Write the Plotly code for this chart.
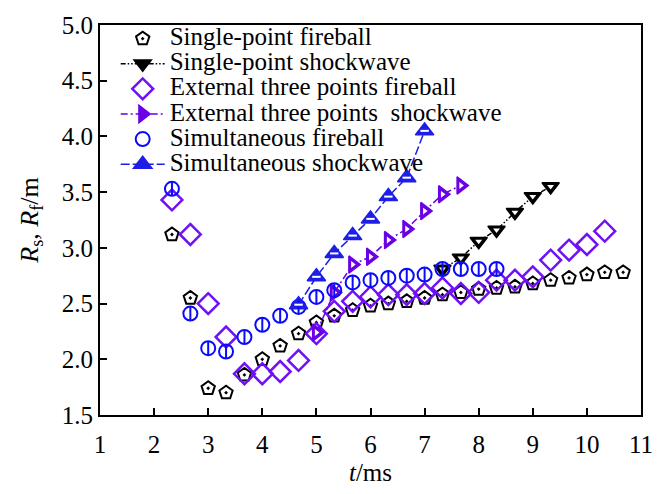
import plotly.graph_objects as go

# ---- data ----
t_sp_fire = [2.33, 2.67, 3.0, 3.33, 3.67, 4.0, 4.33, 4.67, 5.0, 5.33, 5.67, 6.0, 6.33,
             6.67, 7.0, 7.33, 7.67, 8.0, 8.33, 8.67, 9.0, 9.33, 9.67, 10.0, 10.33, 10.67]
r_sp_fire = [3.12, 2.55, 1.74, 1.70, 1.86, 2.00, 2.12, 2.23, 2.33, 2.39, 2.44, 2.48, 2.50,
             2.52, 2.55, 2.58, 2.60, 2.63, 2.64, 2.65, 2.68, 2.71, 2.73, 2.76, 2.78, 2.78]

t_sp_shock = [7.33, 7.67, 8.0, 8.33, 8.67, 9.0, 9.33]
r_sp_shock = [2.81, 2.91, 3.06, 3.16, 3.32, 3.46, 3.55]

t_ext_fire = [2.33, 2.67, 3.0, 3.33, 3.67, 4.0, 4.33, 4.67, 5.0, 5.33, 5.67, 6.0, 6.33,
              6.67, 7.0, 7.33, 7.67, 8.0, 8.33, 8.67, 9.0, 9.33, 9.67, 10.0, 10.33]
r_ext_fire = [3.43, 3.12, 2.50, 2.20, 1.87, 1.87, 1.89, 1.99, 2.23, 2.43, 2.52, 2.56, 2.58,
              2.58, 2.59, 2.64, 2.59, 2.60, 2.71, 2.71, 2.74, 2.89, 2.98, 3.03, 3.15]

t_ext_shock = [5.0, 5.33, 5.67, 6.0, 6.33, 6.67, 7.0, 7.33, 7.67]
r_ext_shock = [2.24, 2.60, 2.85, 2.92, 3.07, 3.17, 3.33, 3.48, 3.56]

t_sim_fire = [2.33, 2.67, 3.0, 3.33, 3.67, 4.0, 4.33, 4.67, 5.0, 5.33, 5.67, 6.0, 6.33,
              6.67, 7.0, 7.33, 7.67, 8.0, 8.33]
r_sim_fire = [3.53, 2.41, 2.10, 2.07, 2.20, 2.31, 2.39, 2.47, 2.56, 2.62, 2.69, 2.71, 2.73,
              2.75, 2.76, 2.81, 2.81, 2.81, 2.81]

t_sim_shock = [4.67, 5.0, 5.33, 5.67, 6.0, 6.33, 6.67, 7.0]
r_sim_shock = [2.49, 2.74, 2.95, 3.11, 3.26, 3.46, 3.63, 4.05]

names = ["Single-point fireball", "Single-point shockwave",
         "External three points fireball", "External three points  shockwave",
         "Simultaneous fireball", "Simultaneous shockwave"]

x_ticks = list(range(1, 12))
y_ticks = [1.5, 2.0, 2.5, 3.0, 3.5, 4.0, 4.5, 5.0]

BLACK = "#000000"
VIOLET = "#7010F5"
VIOLET2 = "#6A00E6"
BLUE = "#0A0AFF"
BLUE2 = "#1E1EE6"
FONT = "Liberation Serif"


def lname(s):
    return '<span style="font-size:25px">' + s.replace("  ", "&nbsp; ") + '</span>'


fig = go.Figure()

# Single-point fireball
fig.add_trace(go.Scatter(x=t_sp_fire, y=r_sp_fire, mode="markers", name=lname(names[0]),
                         marker=dict(symbol="pentagon-open-dot", size=14, color=BLACK,
                                     line=dict(width=2, color=BLACK))))
# Single-point shockwave
fig.add_trace(go.Scatter(x=t_sp_shock, y=r_sp_shock, mode="lines+markers", name=lname(names[1]),
                         line=dict(color=BLACK, width=1.5, dash="5px,2px,1.5px,2px,1.5px,2px"),
                         marker=dict(symbol="triangle-down", size=15, color=BLACK,
                                     line=dict(width=1.5, color=BLACK))))
# External three points fireball
fig.add_trace(go.Scatter(x=t_ext_fire, y=r_ext_fire, mode="markers", name=lname(names[2]),
                         marker=dict(symbol="diamond-open", size=16, color=VIOLET,
                                     line=dict(width=2.5, color=VIOLET))))
# External three points shockwave
fig.add_trace(go.Scatter(x=t_ext_shock, y=r_ext_shock, mode="lines+markers", name=lname(names[3]),
                         line=dict(color=VIOLET2, width=1.5, dash="7px,3px,2px,3px"),
                         marker=dict(symbol="triangle-right", size=15, color=VIOLET2,
                                     line=dict(width=1.5, color=VIOLET2))))
# Simultaneous fireball
fig.add_trace(go.Scatter(x=t_sim_fire, y=r_sim_fire, mode="markers", name=lname(names[4]),
                         marker=dict(symbol="circle-open", size=14, color=BLUE,
                                     line=dict(width=2, color=BLUE))))
# Simultaneous shockwave
fig.add_trace(go.Scatter(x=t_sim_shock, y=r_sim_shock, mode="lines+markers", name=lname(names[5]),
                         line=dict(color=BLUE2, width=1.5, dash="9px,3px"),
                         marker=dict(symbol="triangle-up", size=16, color=BLUE2,
                                     line=dict(width=1.5, color=BLUE2))))

# marker details (white inner parts / bars)
fig.add_trace(go.Scatter(x=t_sp_shock, y=r_sp_shock, mode="markers", showlegend=False,
                         hoverinfo="skip",
                         marker=dict(symbol="triangle-down", size=6, color="white",
                                     line=dict(width=0))))
fig.add_trace(go.Scatter(x=t_ext_shock, y=r_ext_shock, mode="markers", showlegend=False,
                         hoverinfo="skip",
                         marker=dict(symbol="triangle-right", size=6, color="white",
                                     line=dict(width=0))))
fig.add_trace(go.Scatter(x=t_sim_fire, y=r_sim_fire, mode="markers", showlegend=False,
                         hoverinfo="skip",
                         marker=dict(symbol="line-ns-open", size=10, color=BLUE,
                                     line=dict(width=2, color=BLUE))))
fig.add_trace(go.Scatter(x=t_sim_shock, y=r_sim_shock, mode="markers", showlegend=False,
                         hoverinfo="skip",
                         marker=dict(symbol="line-ew-open", size=6, color="white",
                                     line=dict(width=2, color="white"))))

axis_common = dict(showline=True, linecolor="black", linewidth=2, mirror=True,
                   ticks="inside", ticklen=7, tickwidth=1.5, tickcolor="black",
                   showgrid=False, zeroline=False,
                   tickfont=dict(family=FONT, size=25, color="black"))

fig.update_xaxes(range=[1, 11], tickvals=x_ticks, ticktext=[str(v) for v in x_ticks],
                 ticklabelstandoff=6,
                 title=dict(text="<i>t</i>/ms", font=dict(family=FONT, size=25, color="black"),
                            standoff=6),
                 **axis_common)
fig.update_yaxes(range=[1.5, 5.0], tickvals=y_ticks, ticktext=[f"{v:.1f}" for v in y_ticks],
                 title=dict(text="<i>R</i><sub>s</sub>, <i>R</i><sub>f</sub>/m",
                            font=dict(family=FONT, size=26, color="black"), standoff=16),
                 **axis_common)

fig.update_layout(
    width=665, height=494,
    margin=dict(l=100, r=13, t=21, b=70),
    paper_bgcolor="white", plot_bgcolor="white",
    font=dict(family=FONT, color="black"),
    legend=dict(x=0.029, y=1.01, xanchor="left", yanchor="top",
                bgcolor="rgba(0,0,0,0)", borderwidth=0,
                font=dict(family=FONT, size=17, color="black"),
                itemwidth=44, traceorder="normal", tracegroupgap=0),
)

fig.write_html("out.html")
